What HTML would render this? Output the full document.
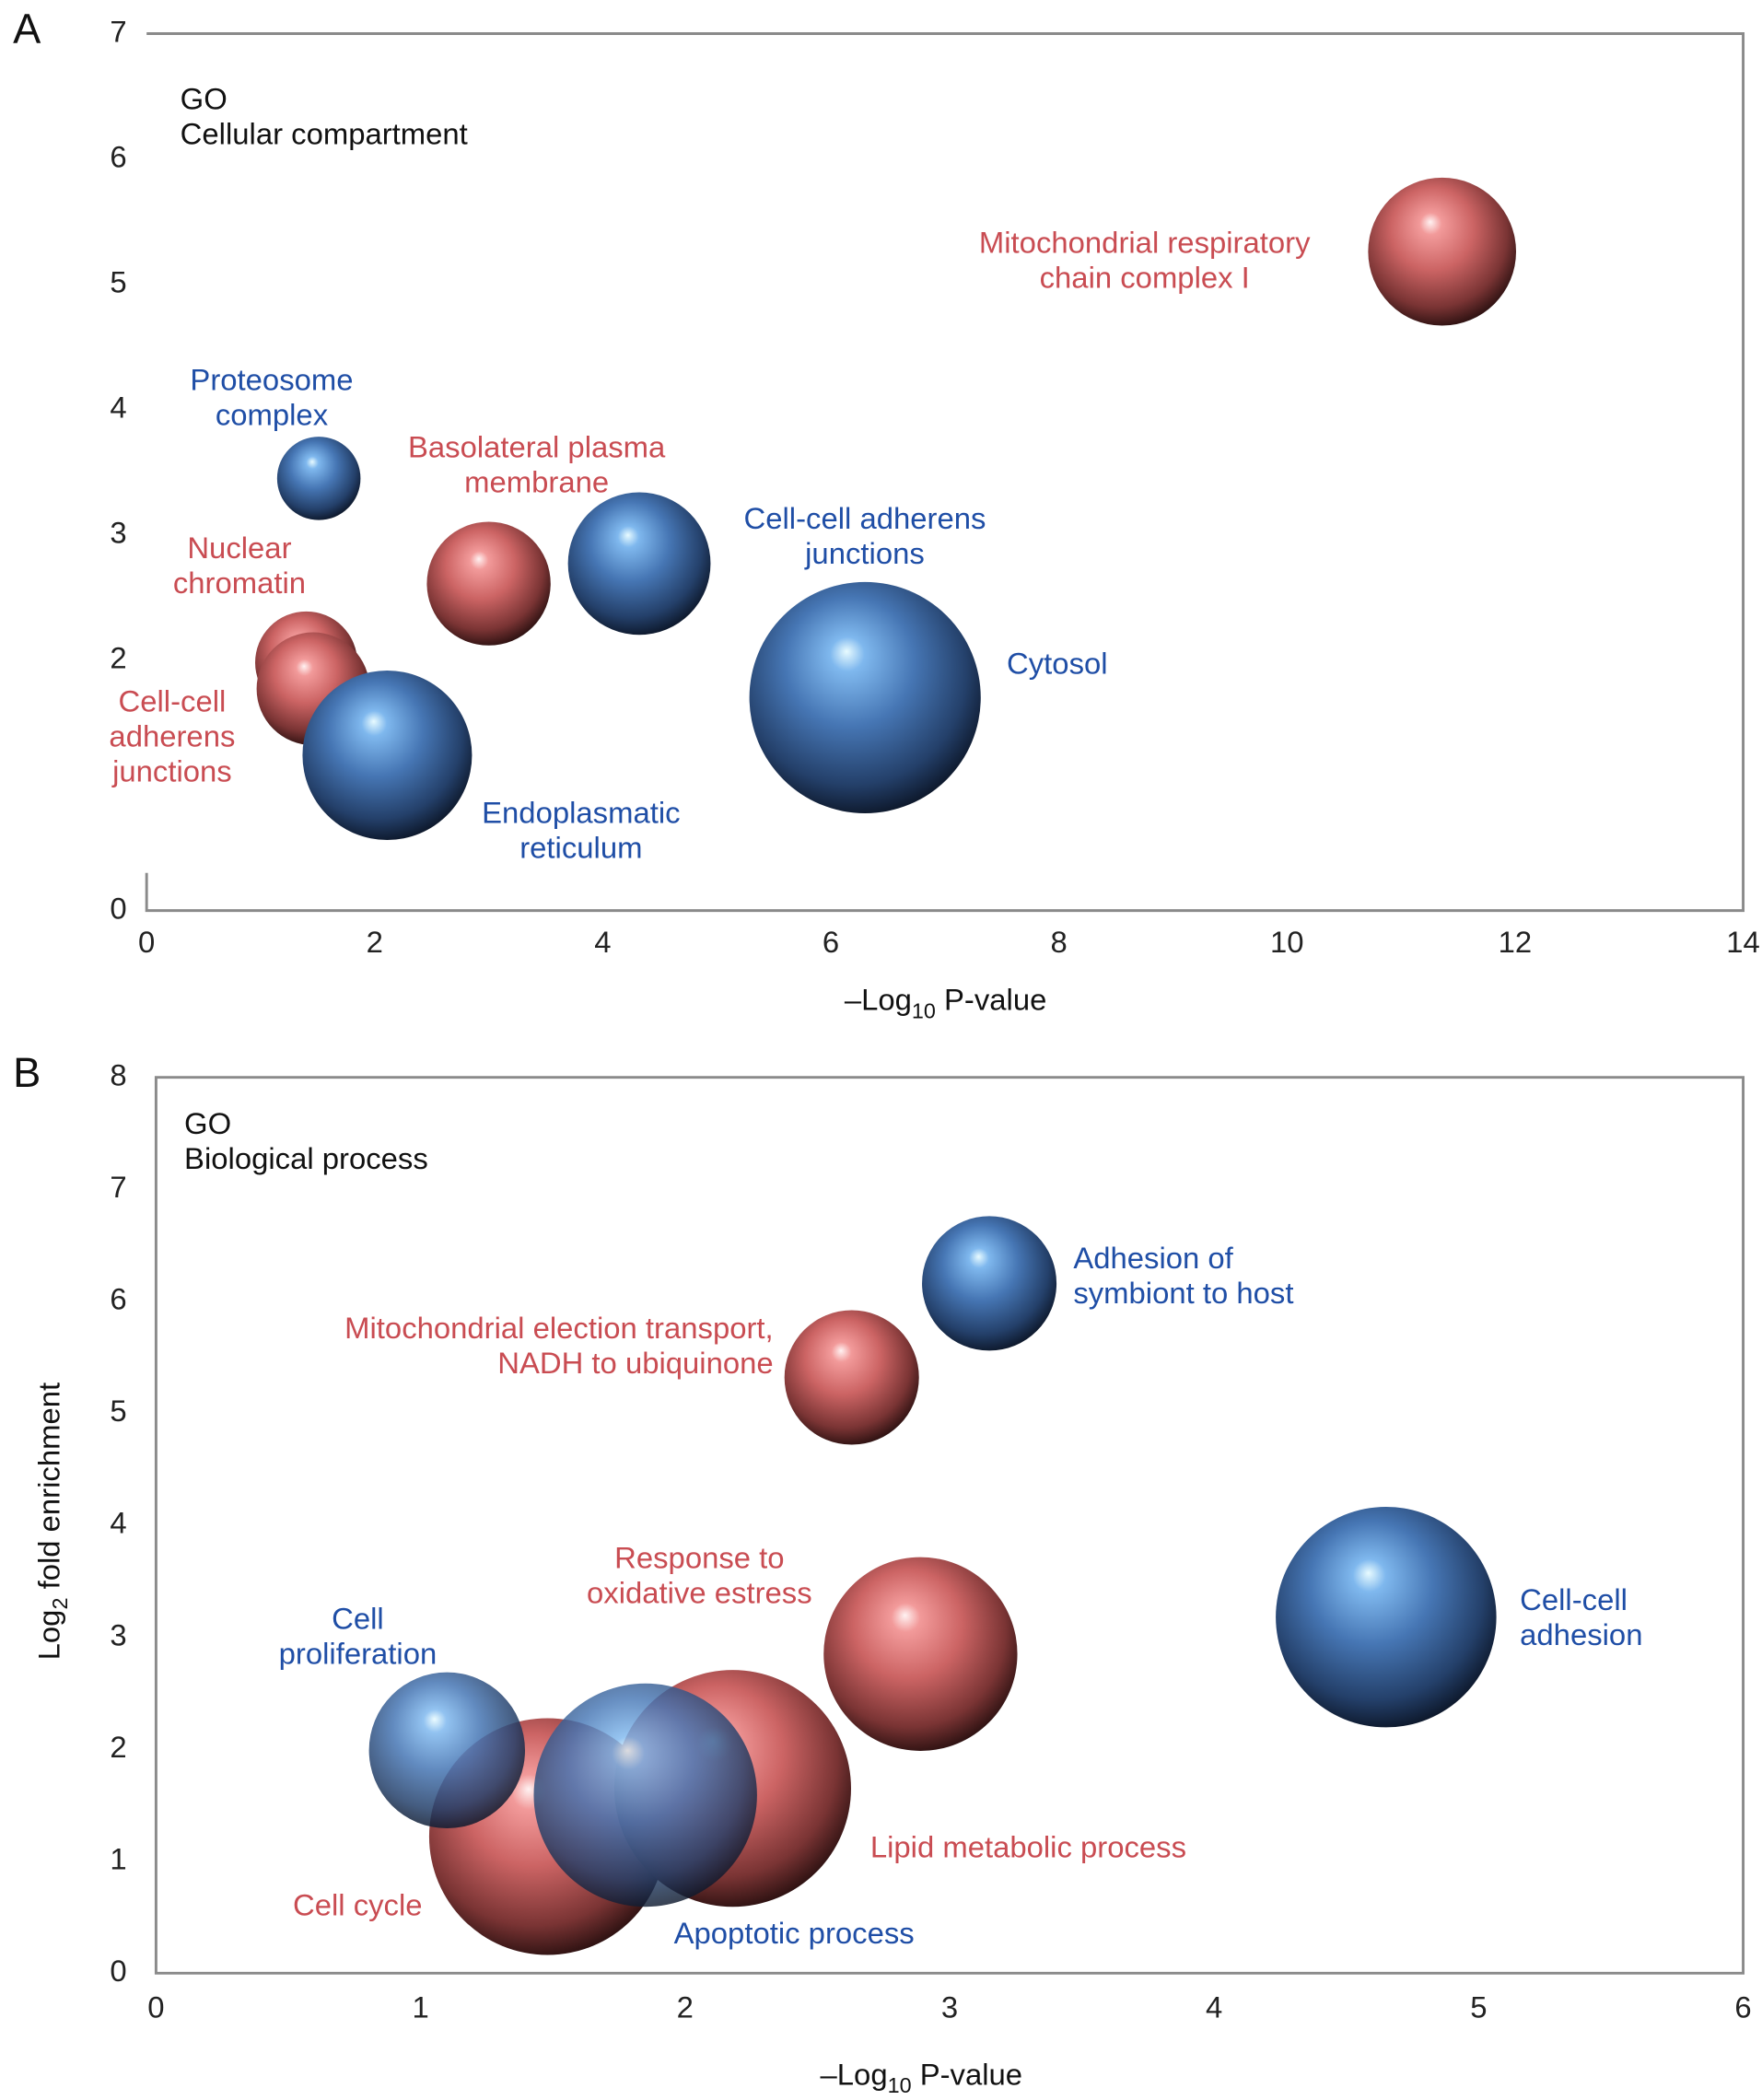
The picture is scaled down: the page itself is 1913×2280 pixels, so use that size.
<!DOCTYPE html>
<html><head><meta charset="utf-8"><style>
html,body{margin:0;padding:0;background:#fff;}
svg{display:block;font-family:"Liberation Sans",sans-serif;}
</style></head><body>
<svg id="fig" width="1913" height="2280" viewBox="0 0 1310 1561.3" xmlns="http://www.w3.org/2000/svg">
<defs>
<radialGradient id="gRed" cx="0.45" cy="0.4" r="0.62" fx="0.42" fy="0.3">
<stop offset="0" stop-color="#fff2f2"/><stop offset="0.12" stop-color="#f29a9a"/><stop offset="0.45" stop-color="#cc6464"/><stop offset="0.8" stop-color="#7a3434"/><stop offset="1" stop-color="#2a1010"/>
</radialGradient>
<radialGradient id="gBlue" cx="0.45" cy="0.4" r="0.62" fx="0.42" fy="0.3">
<stop offset="0" stop-color="#e8fbff"/><stop offset="0.12" stop-color="#7fb8ee"/><stop offset="0.45" stop-color="#4676b4"/><stop offset="0.8" stop-color="#24406a"/><stop offset="1" stop-color="#0c1628"/>
</radialGradient>
</defs>
<g id="panelA"></g>
<g id="panelB"></g>
</svg>
<script>
// Panel A data
const aNames = ["Mitochondrial respiratory chain complex I","Proteosome complex","Basolateral plasma membrane","Cell-cell adherens junctions (blue)","Cytosol","Nuclear chromatin","Cell-cell adherens junctions (red)","Endoplasmatic reticulum"];
const aX = [11.36, 1.51, 3.0, 4.32, 6.3, 1.4, 1.46, 2.11];
const aY = [5.26, 3.45, 2.61, 2.77, 1.7, 1.98, 1.77, 1.24];
const aSize = [55, 31, 46, 53, 86, 38, 42, 63];
const aColor = ["red","blue","red","blue","blue","red","red","blue"];
const aXTicks = [0,2,4,6,8,10,12,14];
const aYTicks = [0,2,3,4,5,6,7];
// Panel B data
const bNames = ["Adhesion of symbiont to host","Mitochondrial election transport","Cell-cell adhesion","Response to oxidative estress","Cell cycle","Lipid metabolic process","Cell proliferation","Apoptotic process"];
const bX = [3.15, 2.63, 4.65, 2.89, 1.48, 2.18, 1.10, 1.85];
const bY = [6.16, 5.32, 3.18, 2.85, 1.22, 1.65, 1.99, 1.59];
const bSize = [50, 50, 82, 72, 88, 88, 58, 83];
const bColor = ["blue","red","blue","red","red","red","blue","blue"];
const bAlpha = [1,1,1,1,1,1,0.85,0.82];
const bXTicks = [0,1,2,3,4,5,6];
const bYTicks = [0,1,2,3,4,5,6,7,8];

const NS="http://www.w3.org/2000/svg";
function mk(parent,tag,attrs,txt){const e=document.createElementNS(NS,tag);for(const k in attrs)e.setAttribute(k,attrs[k]);if(txt!==undefined)e.textContent=txt;parent.appendChild(e);return e;}
const RED="#c94c52", BLUE="#1f4ea6";
const FS=22.5;

function panel(g,L,R,T,B,xmax,ymax,xt,yt,xs,ys,sz,col,alpha,names,fullLeft,tickX,tickY){
  const sx=v=>L+(R-L)*v/xmax, sy=v=>B-(B-T)*v/ymax;
  const box=mk(g,'path',{d:`M${L},${fullLeft?B:B-28} L${L},${B} L${R},${B} L${R},${T} L${L},${T} ${fullLeft?'Z':''}`,fill:'none',stroke:'#8a8a8a','stroke-width':2});
  
  
  xt.forEach(v=>{const t=mk(g,'text',{x:sx(v),y:tickY,'text-anchor':'middle','font-size':FS,fill:'#222'},v);
    
    });
  yt.forEach(v=>{const t=mk(g,'text',{x:tickX,y:sy(v)+6,'text-anchor':'middle','font-size':FS,fill:'#222'},v);
    
    });
  xs.forEach((v,i)=>{const c=mk(g,'circle',{cx:sx(v),cy:sy(ys[i]),r:sz[i],fill:col[i]==='red'?'url(#gRed)':'url(#gBlue)','fill-opacity':alpha?alpha[i]:1});
    
    });
}
function label(g,lines,x,y,color,anchor,name,fs){
  const t=mk(g,'text',{x:x,y:y,'font-size':fs||FS,fill:color,'text-anchor':anchor||'middle'});
  
  
  lines.forEach((s,i)=>mk(t,'tspan',{x:x,dy:i?26:0},s));
}
const gA=document.getElementById('panelA'), gB=document.getElementById('panelB');
panel(gA,109,1296,25,677,14,7,aXTicks,aYTicks,aX,aY,aSize,aColor,null,aNames,false,88,708);
panel(gB,116,1296,801,1467,6,8,bXTicks,bYTicks,bX,bY,bSize,bColor,bAlpha,bNames,true,88,1500);

// panel A text
label(gA,["A"],20,32,'#111','middle','panel-a-letter',31);
label(gA,["GO","Cellular compartment"],134,81,'#111','start','panel-a-title');
label(gA,["Mitochondrial respiratory","chain complex I"],851,188,RED,'middle','label-mito-respiratory');
label(gA,["Proteosome","complex"],202,290,BLUE,'middle','label-proteosome');
label(gA,["Basolateral plasma","membrane"],399,340,RED,'middle','label-basolateral');
label(gA,["Cell-cell adherens","junctions"],643,393,BLUE,'middle','label-cell-cell-adherens-blue');
label(gA,["Nuclear","chromatin"],178,415,RED,'middle','label-nuclear-chromatin');
label(gA,["Cytosol"],786,501,BLUE,'middle','label-cytosol');
label(gA,["Cell-cell","adherens","junctions"],128,529,RED,'middle','label-cell-cell-adherens-red');
label(gA,["Endoplasmatic","reticulum"],432,612,BLUE,'middle','label-endoplasmatic');
(function(){const t=mk(gA,'text',{x:703,y:751,'font-size':FS,fill:'#111','text-anchor':'middle'});


mk(t,'tspan',{},'–Log');mk(t,'tspan',{dy:6,'font-size':16},'10');mk(t,'tspan',{dy:-6},' P-value');})();

// panel B text
label(gB,["B"],20,808,'#111','middle','panel-b-letter',31);
label(gB,["GO","Biological process"],137,843,'#111','start','panel-b-title');
label(gB,["Adhesion of","symbiont to host"],798,943,BLUE,'start','label-adhesion-symbiont');
label(gB,["Mitochondrial election transport,","NADH to ubiquinone"],575,995,RED,'end','label-mito-election');
label(gB,["Response to","oxidative estress"],520,1166,RED,'middle','label-oxidative');
label(gB,["Cell-cell","adhesion"],1130,1197,BLUE,'start','label-cell-cell-adhesion');
label(gB,["Cell","proliferation"],266,1211,BLUE,'middle','label-cell-proliferation');
label(gB,["Lipid metabolic process"],647,1381,RED,'start','label-lipid');
label(gB,["Cell cycle"],314,1424,RED,'end','label-cell-cycle');
label(gB,["Apoptotic process"],501,1445,BLUE,'start','label-apoptotic');
(function(){const t=mk(gB,'text',{x:685,y:1550,'font-size':FS,fill:'#111','text-anchor':'middle'});


mk(t,'tspan',{},'–Log');mk(t,'tspan',{dy:6,'font-size':16},'10');mk(t,'tspan',{dy:-6},' P-value');
const y=mk(gB,'text',{x:0,y:0,'font-size':FS,fill:'#111','text-anchor':'middle',transform:'translate(44,1131) rotate(-90)'});


mk(y,'tspan',{},'Log');mk(y,'tspan',{dy:6,'font-size':16},'2');mk(y,'tspan',{dy:-6},' fold enrichment');})();
</script>
</body></html>
